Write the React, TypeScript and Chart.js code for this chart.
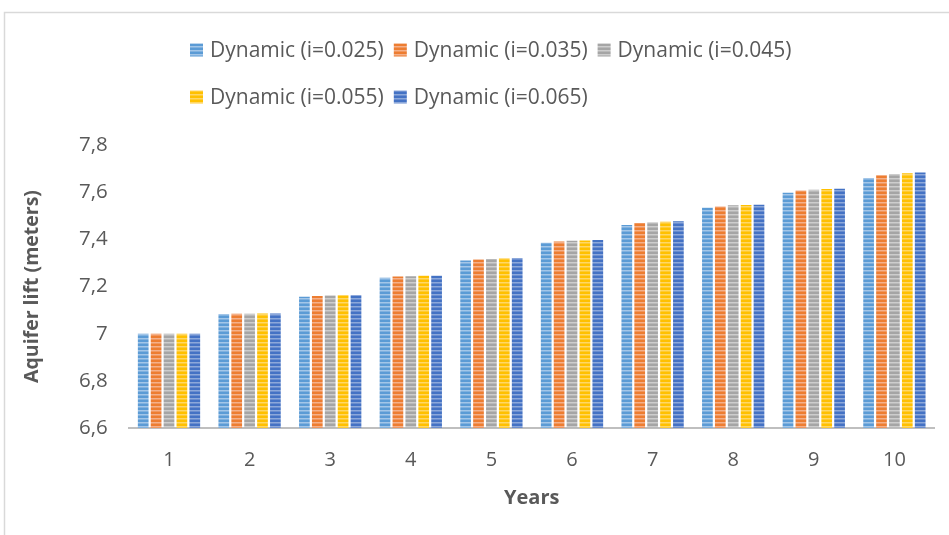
import { useEffect, useRef } from 'react';
import { Chart, registerables } from 'chart.js';

Chart.register(...registerables);

// Years on the horizontal axis
const years = ['1', '2', '3', '4', '5', '6', '7', '8', '9', '10'];

// Legend names of the five interest-rate scenarios
const seriesLabels = [
  'Dynamic (i=0.025)',
  'Dynamic (i=0.035)',
  'Dynamic (i=0.045)',
  'Dynamic (i=0.055)',
  'Dynamic (i=0.065)',
];

// Aquifer lift (meters) per year for each scenario
const dyn025 = [7.0, 7.083, 7.157, 7.237, 7.31, 7.386, 7.461, 7.534, 7.598, 7.66];
const dyn035 = [7.0, 7.084, 7.16, 7.242, 7.314, 7.391, 7.469, 7.539, 7.607, 7.672];
const dyn045 = [7.0, 7.084, 7.162, 7.243, 7.317, 7.394, 7.472, 7.545, 7.61, 7.677];
const dyn055 = [7.0, 7.085, 7.163, 7.246, 7.32, 7.395, 7.475, 7.546, 7.613, 7.68];
const dyn065 = [7.0, 7.085, 7.163, 7.246, 7.321, 7.397, 7.477, 7.547, 7.614, 7.683];

// Value axis range
const yMin = 6.6;
const yMax = 7.8;
const yStep = 0.2;

const baseColors = ['#5B9BD5', '#ED7D31', '#A5A5A5', '#FFC000', '#4472C4'];
const stripeColors = ['#A3C6E8', '#F4B08A', '#CDCDCD', '#FFD766', '#8CA8DA'];
const midColors = ['#80B1DF', '#F1975E', '#B9B9B9', '#FFCB33', '#6A8DCF'];

const FONT = "'Open Sans', sans-serif";
const TEXT = '#595959';

// Narrow horizontal stripe fill, as used for the bars and legend keys
function stripePattern(ctx: CanvasRenderingContext2D, i: number): CanvasPattern | string {
  const c = document.createElement('canvas');
  c.width = 4;
  c.height = 4;
  const g = c.getContext('2d');
  if (!g) return baseColors[i];
  g.fillStyle = baseColors[i];
  g.fillRect(0, 0, 4, 4);
  g.fillStyle = stripeColors[i];
  g.fillRect(0, 2, 4, 1);
  g.fillStyle = midColors[i];
  g.fillRect(0, 3, 4, 1);
  return ctx.createPattern(c, 'repeat') || baseColors[i];
}

// Light frame around the whole chart
const framePlugin = {
  id: 'frame',
  beforeDraw(chart: any) {
    const ctx = chart.ctx as CanvasRenderingContext2D;
    ctx.save();
    ctx.fillStyle = '#ffffff';
    ctx.fillRect(0, 0, chart.width, chart.height);
    ctx.strokeStyle = '#d9d9d9';
    ctx.lineWidth = 1.5;
    ctx.strokeRect(4.5, 12.5, chart.width + 20, chart.height + 20);
    ctx.restore();
  },
};

// Two-row legend, rows start at the same left edge
const rowLegendPlugin = {
  id: 'rowLegend',
  afterDraw(chart: any) {
    const ctx = chart.ctx as CanvasRenderingContext2D;
    const rows = [
      [0, 1, 2],
      [3, 4],
    ];
    const rowY = [50, 97];
    ctx.save();
    ctx.font = `21px ${FONT}`;
    ctx.textBaseline = 'middle';
    ctx.textAlign = 'left';
    rows.forEach((row, r) => {
      let x = 190;
      row.forEach((i) => {
        const ds = chart.data.datasets[i];
        ctx.fillStyle = ds.backgroundColor;
        ctx.fillRect(x, rowY[r] - 6.5, 13, 13);
        ctx.fillStyle = TEXT;
        ctx.fillText(ds.label, x + 20, rowY[r] + 1);
        x += 20 + ctx.measureText(ds.label).width + 10;
      });
    });
    ctx.restore();
  },
};

export default function App() {
  const canvasRef = useRef<HTMLCanvasElement | null>(null);

  useEffect(() => {
    const canvas = canvasRef.current;
    if (!canvas) return;
    const ctx = canvas.getContext('2d');
    if (!ctx) return;

    const values = [dyn025, dyn035, dyn045, dyn055, dyn065];
    const chart = new Chart(ctx, {
      type: 'bar',
      data: {
        labels: years,
        datasets: values.map((v, i) => ({
          label: seriesLabels[i],
          data: v,
          backgroundColor: stripePattern(ctx, i) as any,
          borderWidth: 0,
          categoryPercentage: 0.8,
          barPercentage: 0.83,
        })),
      },
      options: {
        responsive: false,
        animation: false,
        layout: { padding: { left: 0, right: 14.3, top: 145, bottom: 0 } },
        plugins: {
          legend: { display: false },
          tooltip: { enabled: false },
        },
        scales: {
          x: {
            grid: { display: false, drawTicks: false },
            border: { display: true, color: '#BFBFBF', width: 2 },
            ticks: { color: TEXT, font: { family: FONT, size: 20 }, padding: 20 },
            title: {
              display: true,
              text: 'Years',
              color: TEXT,
              font: { family: FONT, size: 20, weight: 'bold' },
              padding: { top: 0, bottom: 25 },
            },
            afterFit: (scale: any) => {
              scale.height = 107;
            },
          },
          y: {
            min: yMin,
            max: yMax,
            grid: { display: false, drawTicks: false },
            border: { display: false },
            ticks: {
              stepSize: yStep,
              color: TEXT,
              font: { family: FONT, size: 20.5 },
              padding: 21,
              callback: (v: any) => String(Number(Number(v).toFixed(1))).replace('.', ','),
            },
            title: {
              display: true,
              text: 'Aquifer lift (meters)',
              color: TEXT,
              font: { family: FONT, size: 19.5, weight: 'bold' },
              padding: { top: 21, bottom: 0 },
            },
            afterFit: (scale: any) => {
              scale.width = 128.7;
            },
          },
        },
      },
      plugins: [framePlugin, rowLegendPlugin],
    });

    return () => chart.destroy();
  }, []);

  return (
    <div style={{ position: 'fixed', left: 0, top: 0, width: 949, height: 535, background: '#fff' }}>
      <canvas ref={canvasRef} width={949} height={535} style={{ display: 'block' }} />
    </div>
  );
}
